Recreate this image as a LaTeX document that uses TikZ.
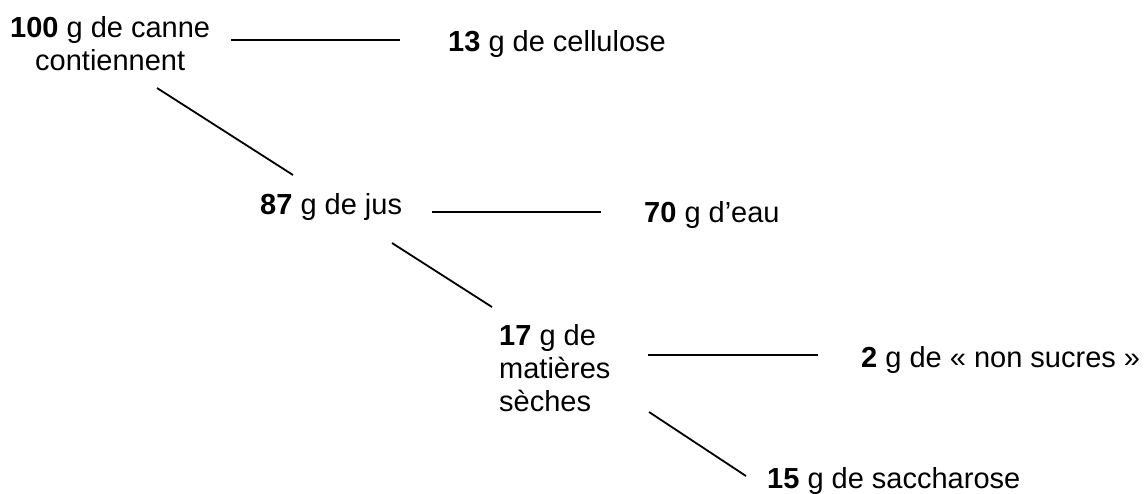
\documentclass[tikz,border=0pt]{standalone}
\usepackage{fontspec}
\setmainfont{Liberation Sans}
\begin{document}
\begin{tikzpicture}[x=1pt,y=-1pt,
  lbl/.style={anchor=base west,inner sep=0pt,font=\fontsize{29}{33}\selectfont},
  conn/.style={line width=1.8pt,line cap=butt}]
\useasboundingbox (0,0) rectangle (1144,493);
% labels
\node[lbl] (canne) at (10,37) {\begin{tabular}[t]{@{}c@{}}\textbf{100} g de canne\\contiennent\end{tabular}};
\node[lbl] (cell) at (448,51) {\textbf{13} g de cellulose};
\node[lbl] (jus) at (260,214) {\textbf{87} g de jus};
\node[lbl] (eau) at (644,222) {\textbf{70} g d’eau};
\node[lbl] (ms) at (499,345) {\begin{tabular}[t]{@{}l@{}}\textbf{17} g de\\matières\\sèches\end{tabular}};
\node[lbl] (ns) at (861,367) {\textbf{2} g de « non sucres »};
\node[lbl] (sac) at (767,488) {\textbf{15} g de saccharose};
% connector end points
\coordinate (c1a) at (231,40);  \coordinate (c1b) at (400,40);
\coordinate (c2a) at (157,88);  \coordinate (c2b) at (293,175);
\coordinate (c3a) at (432,212); \coordinate (c3b) at (601,212);
\coordinate (c4a) at (392,243); \coordinate (c4b) at (492,307);
\coordinate (c5a) at (648,355); \coordinate (c5b) at (818,355);
\coordinate (c6a) at (649,412); \coordinate (c6b) at (746,476);
\draw[conn] (c1a) -- (c1b);
\draw[conn] (c2a) -- (c2b);
\draw[conn] (c3a) -- (c3b);
\draw[conn] (c4a) -- (c4b);
\draw[conn] (c5a) -- (c5b);
\draw[conn] (c6a) -- (c6b);
\end{tikzpicture}
\end{document}
